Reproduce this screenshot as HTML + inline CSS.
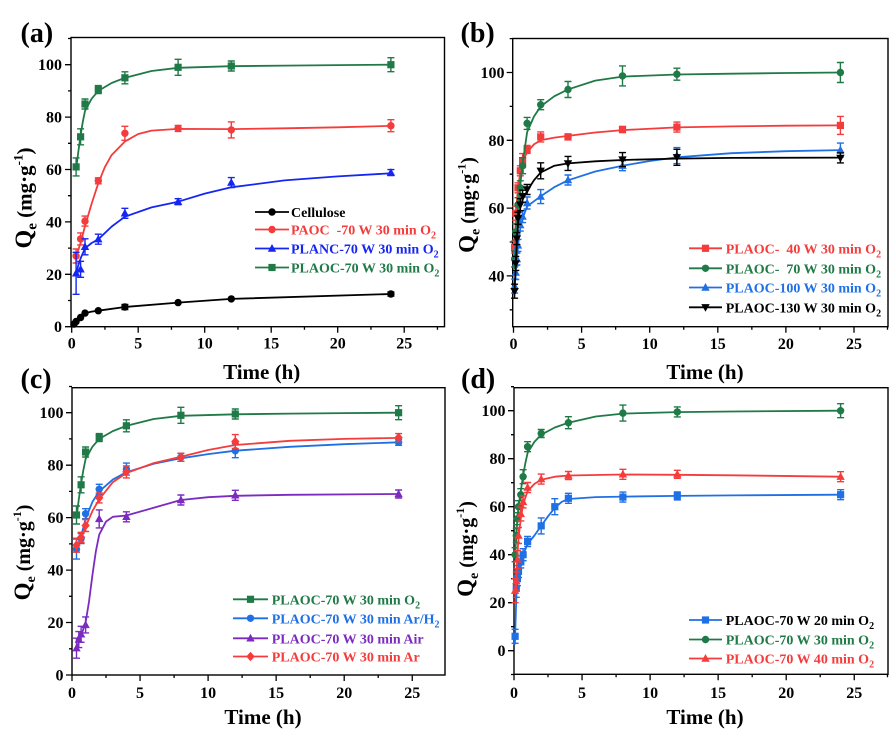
<!DOCTYPE html>
<html><head><meta charset="utf-8"><style>
html,body{margin:0;padding:0;background:#fff;}
svg{display:block;font-family:"Liberation Serif",serif;font-weight:bold;}
</style></head><body>
<svg width="891" height="731" viewBox="0 0 891 731" xmlns="http://www.w3.org/2000/svg">
<defs>
<path id="sq" d="M-3.6 -3.6h7.2v7.2h-7.2z"/>
<circle id="ci" cx="0" cy="0" r="3.7"/>
<path id="tr" d="M0 -4.5L4.2 3.2L-4.2 3.2z"/>
<path id="td" d="M0 4.5L4.2 -3.2L-4.2 -3.2z"/>
<path id="di" d="M0 -4.8L4.2 0L0 4.8L-4.2 0z"/>
</defs>
<rect width="891" height="731" fill="#fff"/>

<!-- ================= PANEL A ================= -->
<g>
<text x="20.5" y="42" font-size="28">(a)</text>
<rect x="71" y="37.5" width="373.5" height="289.2" fill="none" stroke="#000" stroke-width="1.4"/>
<path stroke="#000" stroke-width="1.3" fill="none" d="M71.7 326.7v6M104.95 326.7v3M138.2 326.7v6M171.45 326.7v3M204.7 326.7v6M237.95 326.7v3M271.2 326.7v6M304.45 326.7v3M337.7 326.7v6M370.95 326.7v3M404.2 326.7v6M437.45 326.7v3
M71 326.7h-6M71 300.5h-3M71 274.3h-6M71 248.1h-3M71 221.9h-6M71 195.7h-3M71 169.5h-6M71 143.3h-3M71 117.1h-6M71 90.9h-3M71 64.7h-6M71 38.5h-3"/>
<g font-size="16" text-anchor="middle">
<text x="71.7" y="348.5">0</text><text x="138.2" y="348.5">5</text><text x="204.7" y="348.5">10</text><text x="271.2" y="348.5">15</text><text x="337.7" y="348.5">20</text><text x="404.2" y="348.5">25</text>
</g>
<g font-size="16" text-anchor="end">
<text x="62" y="332.2">0</text><text x="62" y="279.8">20</text><text x="62" y="227.4">40</text><text x="62" y="175">60</text><text x="62" y="122.6">80</text><text x="62" y="70.2">100</text>
</g>
<text x="261.7" y="379" font-size="21" text-anchor="middle">Time (h)</text>
<text transform="translate(31.5,198) rotate(-90)" text-anchor="middle" font-size="21"><tspan font-size="24">Q</tspan><tspan font-size="15" dy="5">e</tspan><tspan dy="-5"> (mg·g</tspan><tspan font-size="13" dy="-9">-1</tspan><tspan dy="9">)</tspan></text>

<!-- black cellulose -->
<g stroke="#000" fill="none" stroke-width="1.8" stroke-linejoin="round">
<path d="M72.8 325.5L74 324.1L76.1 321.5L80.6 317.5L85 313.1L91.6 311.6L98.3 310.7L124.9 307L178.1 302.6L231.3 298.9L390.9 294"/>
<path stroke-width="1.4" d="M124.9 304.5V309.5M121.4 304.5h7M121.4 309.5h7M390.9 292V296M387.4 292h7M387.4 296h7"/>
</g>
<g fill="#000"><use href="#ci" x="74" y="324.1"/><use href="#ci" x="76.1" y="321.5"/><use href="#ci" x="80.6" y="317.5"/><use href="#ci" x="85" y="313.1"/><use href="#ci" x="98.3" y="310.7"/><use href="#ci" x="124.9" y="307"/><use href="#ci" x="178.1" y="302.6"/><use href="#ci" x="231.3" y="298.9"/><use href="#ci" x="390.9" y="294"/></g>

<!-- red PAOC -->
<g stroke="#f43c3c" fill="none" stroke-width="1.8" stroke-linejoin="round">
<path d="M76.1 256L80.6 243.1L85 226.1L91.65 203.6L98.3 183.2L104.95 166.9L111.6 155.1L124.9 141.5L138.2 134L151.5 130.6L178.1 128.9L231.3 129.1L284.5 128.3L337.7 127.3L390.9 125.9"/>
<path stroke-width="1.4" d="M76.1 249V263M72.6 249h7M72.6 263h7M80.6 232.9V244.9M77.1 232.9h7M77.1 244.9h7M85 216.1V226.1M81.5 216.1h7M81.5 226.1h7M98.3 177.8V183.8M94.8 177.8h7M94.8 183.8h7M124.9 126.3V140.3M121.4 126.3h7M121.4 140.3h7M178.1 125.4V131.4M174.6 125.4h7M174.6 131.4h7M231.3 121.9V137.9M227.8 121.9h7M227.8 137.9h7M390.9 119.7V131.7M387.4 119.7h7M387.4 131.7h7"/>
</g>
<g fill="#f43c3c"><use href="#ci" x="76.1" y="256"/><use href="#ci" x="80.6" y="238.9"/><use href="#ci" x="85" y="221.1"/><use href="#ci" x="98.3" y="180.8"/><use href="#ci" x="124.9" y="133.3"/><use href="#ci" x="178.1" y="128.4"/><use href="#ci" x="231.3" y="129.9"/><use href="#ci" x="390.9" y="125.7"/></g>

<!-- blue PLANC -->
<g stroke="#1626f2" fill="none" stroke-width="1.8" stroke-linejoin="round">
<path d="M76.1 273.3L78.4 264.8L80.6 258.4L85 248.3L91.65 243L98.3 239.3L111.6 226.6L124.9 216.7L151.5 207.4L178.1 201.7L204.7 193.6L231.3 187.3L284.5 180.4L337.7 176.4L390.9 173.3"/>
<path stroke-width="1.4" d="M76.1 252.3V294.3M72.6 252.3h7M72.6 294.3h7M80.6 261.3V277.3M77.1 261.3h7M77.1 277.3h7M85 238.8V254.8M81.5 238.8h7M81.5 254.8h7M98.3 234.2V244.2M94.8 234.2h7M94.8 244.2h7M124.9 208.3V218.3M121.4 208.3h7M121.4 218.3h7M178.1 198.7V204.7M174.6 198.7h7M174.6 204.7h7M231.3 177.6V187.6M227.8 177.6h7M227.8 187.6h7M390.9 169.6V175.6M387.4 169.6h7M387.4 175.6h7"/>
</g>
<g fill="#1626f2"><use href="#tr" x="76.1" y="273.3"/><use href="#tr" x="80.6" y="269.3"/><use href="#tr" x="85" y="246.8"/><use href="#tr" x="98.3" y="239.2"/><use href="#tr" x="124.9" y="213.3"/><use href="#tr" x="178.1" y="201.7"/><use href="#tr" x="231.3" y="182.6"/><use href="#tr" x="390.9" y="172.6"/></g>

<!-- green PLAOC -->
<g stroke="#1f7a47" fill="none" stroke-width="1.8" stroke-linejoin="round">
<path d="M76.1 169.5L78.4 151.2L80.6 135.4L82.7 122.3L85 110.9L91.65 98.7L98.3 90.9L111.6 83L124.9 77.8L151.5 71L178.1 67.8L231.3 66.2L284.5 65.6L337.7 65.1L390.9 64.7"/>
<path stroke-width="1.4" d="M76.1 157.9V175.9M72.6 157.9h7M72.6 175.9h7M80.6 128.8V144.8M77.1 128.8h7M77.1 144.8h7M85 99V109M81.5 99h7M81.5 109h7M98.3 85.6V93.6M94.8 85.6h7M94.8 93.6h7M124.9 71.8V83.8M121.4 71.8h7M121.4 83.8h7M178.1 59.3V75.3M174.6 59.3h7M174.6 75.3h7M231.3 61V71M227.8 61h7M227.8 71h7M390.9 57.7V71.7M387.4 57.7h7M387.4 71.7h7"/>
</g>
<g fill="#1f7a47"><use href="#sq" x="76.1" y="166.9"/><use href="#sq" x="80.6" y="136.8"/><use href="#sq" x="85" y="104"/><use href="#sq" x="98.3" y="89.6"/><use href="#sq" x="124.9" y="77.8"/><use href="#sq" x="178.1" y="67.3"/><use href="#sq" x="231.3" y="66"/><use href="#sq" x="390.9" y="64.7"/></g>

<!-- legend A -->
<g stroke-width="1.8">
<line x1="255" y1="212" x2="289" y2="212" stroke="#000"/><use href="#ci" x="272" y="212" fill="#000"/>
<line x1="255" y1="229.5" x2="289" y2="229.5" stroke="#f43c3c"/><use href="#ci" x="272" y="229.5" fill="#f43c3c"/>
<line x1="255" y1="248.5" x2="289" y2="248.5" stroke="#1626f2"/><use href="#tr" x="272" y="248.5" fill="#1626f2"/>
<line x1="255" y1="267.5" x2="289" y2="267.5" stroke="#1f7a47"/><use href="#sq" x="272" y="267.5" fill="#1f7a47"/>
</g>
<g font-size="14">
<text x="291" y="217" fill="#000">Cellulose</text>
<text x="291" y="234.5" fill="#f43c3c">PAOC&#160; -70 W 30 min O<tspan font-size="10" dy="4">2</tspan></text>
<text x="291" y="253.5" fill="#1626f2">PLANC-70 W 30 min O<tspan font-size="10" dy="4">2</tspan></text>
<text x="291" y="272.5" fill="#1f7a47">PLAOC-70 W 30 min O<tspan font-size="10" dy="4">2</tspan></text>
</g>
</g>

<!-- ================= PANEL B ================= -->
<g>
<text x="460.5" y="42" font-size="28">(b)</text>
<rect x="512.7" y="38.5" width="375.3" height="288.2" fill="none" stroke="#000" stroke-width="1.4"/>
<path stroke="#000" stroke-width="1.3" fill="none" d="M513.5 326.7v6M547.55 326.7v3M581.6 326.7v6M615.65 326.7v3M649.7 326.7v6M683.75 326.7v3M717.8 326.7v6M751.85 326.7v3M785.9 326.7v6M819.95 326.7v3M854 326.7v6M887.5 326.7v3
M512.7 309.8h-3M512.7 275.9h-6M512.7 242h-3M512.7 208.1h-6M512.7 174.2h-3M512.7 140.3h-6M512.7 106.4h-3M512.7 72.5h-6M512.7 38.6h-3"/>
<g font-size="16" text-anchor="middle">
<text x="513.5" y="349">0</text><text x="581.6" y="349">5</text><text x="649.7" y="349">10</text><text x="717.8" y="349">15</text><text x="785.9" y="349">20</text><text x="854" y="349">25</text>
</g>
<g font-size="16" text-anchor="end">
<text x="504.5" y="281.4">40</text><text x="504.5" y="213.6">60</text><text x="504.5" y="145.8">80</text><text x="504.5" y="78">100</text>
</g>
<text x="705" y="379" font-size="21" text-anchor="middle">Time (h)</text>
<text transform="translate(474.5,205) rotate(-90)" text-anchor="middle" font-size="20"><tspan font-size="23">Q</tspan><tspan font-size="14" dy="5">e</tspan><tspan dy="-5"> (mg·g</tspan><tspan font-size="12" dy="-9">-1</tspan><tspan dy="9">)</tspan></text>

<!-- red 40W -->
<g stroke="#f43c3c" fill="none" stroke-width="1.8" stroke-linejoin="round">
<path d="M514.6 248.8L515.8 218.3L516.9 201.3L518 187.8L520.3 172.5L522.6 162.3L527.1 152.2L533.9 144.4L540.7 140.3L554.4 137.6L568 135.9L595.2 132.5L622.5 130.1L676.9 127.4L731.4 126.4L785.9 125.7L840.4 125.4"/>
<path stroke-width="1.4" d="M514.6 241.1V253.1M511.1 241.1h7M511.1 253.1h7M515.8 206.2V220.2M512.3 206.2h7M512.3 220.2h7M518 182.8V192.8M514.5 182.8h7M514.5 192.8h7M520.3 165.8V175.8M516.8 165.8h7M516.8 175.8h7M522.6 153.6V167.6M519.1 153.6h7M519.1 167.6h7M527.1 145.4V153.4M523.6 145.4h7M523.6 153.4h7M540.7 131.9V141.9M537.2 131.9h7M537.2 141.9h7M568 133.9V139.9M564.5 133.9h7M564.5 139.9h7M622.5 126.5V132.5M619 126.5h7M619 132.5h7M676.9 122.1V132.1M673.4 122.1h7M673.4 132.1h7M840.4 116.4V134.4M836.9 116.4h7M836.9 134.4h7"/>
</g>
<g fill="#f43c3c"><use href="#sq" x="514.6" y="247.1"/><use href="#sq" x="515.8" y="213.2"/><use href="#sq" x="518" y="187.8"/><use href="#sq" x="520.3" y="170.8"/><use href="#sq" x="522.6" y="160.6"/><use href="#sq" x="527.1" y="149.4"/><use href="#sq" x="540.7" y="136.9"/><use href="#sq" x="568" y="136.9"/><use href="#sq" x="622.5" y="129.5"/><use href="#sq" x="676.9" y="127.1"/><use href="#sq" x="840.4" y="125.4"/></g>

<!-- green 70W -->
<g stroke="#1f7a47" fill="none" stroke-width="1.8" stroke-linejoin="round">
<path d="M514.6 269.1L515.8 242L516.9 221.7L518 208.1L520.3 184.4L522.6 164L527.1 132.2L533.9 116.6L540.7 106.4L554.4 96.2L568 89.45L595.2 80.6L622.5 76.6L676.9 74.5L731.4 73.7L785.9 73L840.4 72.5"/>
<path stroke-width="1.4" d="M514.6 251V267M511.1 251h7M511.1 267h7M515.8 223.8V239.8M512.3 223.8h7M512.3 239.8h7M518 197.7V211.7M514.5 197.7h7M514.5 211.7h7M520.3 180.8V194.8M516.8 180.8h7M516.8 194.8h7M522.6 157.7V173.7M519.1 157.7h7M519.1 173.7h7M527.1 117.4V129.4M523.6 117.4h7M523.6 129.4h7M540.7 99.7V109.7M537.2 99.7h7M537.2 109.7h7M568 81.5V97.5M564.5 81.5h7M564.5 97.5h7M622.5 65.9V85.9M619 65.9h7M619 85.9h7M676.9 68.2V80.2M673.4 68.2h7M673.4 80.2h7M840.4 62.5V82.5M836.9 62.5h7M836.9 82.5h7"/>
</g>
<g fill="#1f7a47"><use href="#ci" x="514.6" y="258.95"/><use href="#ci" x="515.8" y="231.8"/><use href="#ci" x="518" y="204.7"/><use href="#ci" x="520.3" y="187.8"/><use href="#ci" x="522.6" y="165.7"/><use href="#ci" x="527.1" y="123.35"/><use href="#ci" x="540.7" y="104.7"/><use href="#ci" x="568" y="89.45"/><use href="#ci" x="622.5" y="75.9"/><use href="#ci" x="676.9" y="74.2"/><use href="#ci" x="840.4" y="72.5"/></g>

<!-- blue 100W -->
<g stroke="#1f6fe5" fill="none" stroke-width="1.8" stroke-linejoin="round">
<path d="M514.6 286.1L515.8 270.8L516.9 259L518 245.4L520.3 228.4L522.6 218.3L527.1 206.4L533.9 201.3L540.7 196.3L554.4 187.1L568 180.3L595.2 171.5L622.5 165.7L649.7 161L676.9 157.3L731.4 153.2L785.9 151.2L840.4 150.1"/>
<path stroke-width="1.4" d="M514.6 279.1V293.1M511.1 279.1h7M511.1 293.1h7M515.8 265.5V279.5M512.3 265.5h7M512.3 279.5h7M516.9 253V265M513.4 253h7M513.4 265h7M518 239.4V251.4M514.5 239.4h7M514.5 251.4h7M520.3 219.1V231.1M516.8 219.1h7M516.8 231.1h7M522.6 210.6V222.6M519.1 210.6h7M519.1 222.6h7M527.1 197V209M523.6 197h7M523.6 209h7M540.7 189.6V203.6M537.2 189.6h7M537.2 203.6h7M568 175V185M564.5 175h7M564.5 185h7M622.5 160.7V170.7M619 160.7h7M619 170.7h7M676.9 147.6V163.6M673.4 147.6h7M673.4 163.6h7M840.4 143.1V157.1M836.9 143.1h7M836.9 157.1h7"/>
</g>
<g fill="#1f6fe5"><use href="#tr" x="514.6" y="286.1"/><use href="#tr" x="515.8" y="272.5"/><use href="#tr" x="516.9" y="259"/><use href="#tr" x="518" y="245.4"/><use href="#tr" x="520.3" y="225.1"/><use href="#tr" x="522.6" y="216.6"/><use href="#tr" x="527.1" y="203"/><use href="#tr" x="540.7" y="196.6"/><use href="#tr" x="568" y="180"/><use href="#tr" x="622.5" y="165.7"/><use href="#tr" x="676.9" y="155.6"/><use href="#tr" x="840.4" y="150.1"/></g>

<!-- black 130W -->
<g stroke="#000" fill="none" stroke-width="1.8" stroke-linejoin="round">
<path d="M514.6 289.5L515.8 265.7L516.9 242L518 225.1L520.3 208.1L522.6 199.6L527.1 191.15L533.9 180.3L540.7 172.5L554.4 165.7L568 163.4L595.2 161.3L622.5 160L676.9 158.6L731.4 157.9L840.4 157.6"/>
<path stroke-width="1.4" d="M514.6 284.2V298.2M511.1 284.2h7M511.1 298.2h7M515.8 256.4V270.4M512.3 256.4h7M512.3 270.4h7M516.9 232.6V244.6M513.4 232.6h7M513.4 244.6h7M518 212.3V224.3M514.5 212.3h7M514.5 224.3h7M520.3 198.7V210.7M516.8 198.7h7M516.8 210.7h7M522.6 190.2V202.2M519.1 190.2h7M519.1 202.2h7M527.1 184.5V194.5M523.6 184.5h7M523.6 194.5h7M540.7 162.8V178.8M537.2 162.8h7M537.2 178.8h7M568 156.4V170.4M564.5 156.4h7M564.5 170.4h7M622.5 152.6V166.6M619 152.6h7M619 166.6h7M676.9 149.3V165.3M673.4 149.3h7M673.4 165.3h7M840.4 152.9V162.9M836.9 152.9h7M836.9 162.9h7"/>
</g>
<g fill="#000"><use href="#td" x="514.6" y="291.2"/><use href="#td" x="515.8" y="263.4"/><use href="#td" x="516.9" y="238.6"/><use href="#td" x="518" y="218.3"/><use href="#td" x="520.3" y="204.7"/><use href="#td" x="522.6" y="196.2"/><use href="#td" x="527.1" y="189.5"/><use href="#td" x="540.7" y="170.8"/><use href="#td" x="568" y="163.4"/><use href="#td" x="622.5" y="159.6"/><use href="#td" x="676.9" y="157.3"/><use href="#td" x="840.4" y="157.9"/></g>

<!-- legend B -->
<g stroke-width="1.8">
<line x1="689" y1="248.3" x2="722" y2="248.3" stroke="#f43c3c"/><use href="#sq" x="705.5" y="248.3" fill="#f43c3c"/>
<line x1="689" y1="268.3" x2="722" y2="268.3" stroke="#1f7a47"/><use href="#ci" x="705.5" y="268.3" fill="#1f7a47"/>
<line x1="689" y1="287.5" x2="722" y2="287.5" stroke="#1f6fe5"/><use href="#tr" x="705.5" y="287.5" fill="#1f6fe5"/>
<line x1="689" y1="307.3" x2="722" y2="307.3" stroke="#000"/><use href="#td" x="705.5" y="307.3" fill="#000"/>
</g>
<g font-size="14">
<text x="725.7" y="253.3" fill="#f43c3c">PLAOC-&#160; 40 W 30 min O<tspan font-size="10" dy="4">2</tspan></text>
<text x="725.7" y="273.3" fill="#1f7a47">PLAOC-&#160; 70 W 30 min O<tspan font-size="10" dy="4">2</tspan></text>
<text x="725.7" y="292.5" fill="#1f6fe5">PLAOC-100 W 30 min O<tspan font-size="10" dy="4">2</tspan></text>
<text x="725.7" y="312.3" fill="#000">PLAOC-130 W 30 min O<tspan font-size="10" dy="4">2</tspan></text>
</g>
</g>

<!-- ================= PANEL C ================= -->
<g>
<text x="20.5" y="388" font-size="28">(c)</text>
<rect x="72" y="387.7" width="373" height="287.3" fill="none" stroke="#000" stroke-width="1.4"/>
<path stroke="#000" stroke-width="1.3" fill="none" d="M72 675v6M106 675v3M140.05 675v6M174.1 675v3M208.1 675v6M242.1 675v3M276.15 675v6M310.2 675v3M344.2 675v6M378.2 675v3M412.25 675v6
M72 675h-6M72 648.8h-3M72 622.5h-6M72 596.3h-3M72 570.1h-6M72 543.9h-3M72 517.6h-6M72 491.4h-3M72 465.2h-6M72 438.9h-3M72 412.7h-6M72 386.5h-3"/>
<g font-size="16" text-anchor="middle">
<text x="72" y="698">0</text><text x="140.05" y="698">5</text><text x="208.1" y="698">10</text><text x="276.15" y="698">15</text><text x="344.2" y="698">20</text><text x="412.25" y="698">25</text>
</g>
<g font-size="16" text-anchor="end">
<text x="63.5" y="680.5">0</text><text x="63.5" y="628">20</text><text x="63.5" y="575.6">40</text><text x="63.5" y="523.1">60</text><text x="63.5" y="470.7">80</text><text x="63.5" y="418.2">100</text>
</g>
<text x="263" y="724" font-size="21" text-anchor="middle">Time (h)</text>
<text transform="translate(30,552.5) rotate(-90)" text-anchor="middle" font-size="20"><tspan font-size="23">Q</tspan><tspan font-size="14" dy="5">e</tspan><tspan dy="-5"> (mg·g</tspan><tspan font-size="12" dy="-9">-1</tspan><tspan dy="9">)</tspan></text>

<!-- green O2 -->
<g stroke="#1f7a47" fill="none" stroke-width="1.8" stroke-linejoin="round">
<path d="M76.5 517.6L78.8 499.3L81.1 483.5L83.3 470.4L85.6 458.9L92.4 446.8L99.2 438.9L112.8 431.1L126.4 425.8L153.7 419L180.9 415.8L235.3 414.3L289.8 413.6L344.2 413.1L398.6 412.7"/>
<path stroke-width="1.4" d="M76.5 506V524M73 506h7M73 524h7M81.1 476.8V492.8M77.6 476.8h7M77.6 492.8h7M85.6 447V457M82.1 447h7M82.1 457h7M99.2 433.6V441.6M95.7 433.6h7M95.7 441.6h7M126.4 419.8V431.8M122.9 419.8h7M122.9 431.8h7M180.9 407.3V423.3M177.4 407.3h7M177.4 423.3h7M235.3 409V419M231.8 409h7M231.8 419h7M398.6 405.7V419.7M395.1 405.7h7M395.1 419.7h7"/>
</g>
<g fill="#1f7a47"><use href="#sq" x="76.5" y="515"/><use href="#sq" x="81.1" y="484.8"/><use href="#sq" x="85.6" y="452"/><use href="#sq" x="99.2" y="437.6"/><use href="#sq" x="126.4" y="425.8"/><use href="#sq" x="180.9" y="415.3"/><use href="#sq" x="235.3" y="414"/><use href="#sq" x="398.6" y="412.7"/></g>

<!-- blue Ar/H2 -->
<g stroke="#1f6fe5" fill="none" stroke-width="1.8" stroke-linejoin="round">
<path d="M76.5 549.1L78.8 543.9L81.1 536L85.6 518.9L92.4 501.9L99.2 491.4L112.8 479.6L126.4 472.2L153.7 463.8L180.9 458.3L208.1 454.1L235.3 450.7L289.8 446.8L344.2 444.2L398.6 442.3"/>
<path stroke-width="1.4" d="M76.5 539.1V559.1M73 539.1h7M73 559.1h7M81.1 533.6V543.6M77.6 533.6h7M77.6 543.6h7M85.6 508.7V518.7M82.1 508.7h7M82.1 518.7h7M99.2 484.3V494.3M95.7 484.3h7M95.7 494.3h7M126.4 463.1V475.1M122.9 463.1h7M122.9 475.1h7M180.9 453.3V461.3M177.4 453.3h7M177.4 461.3h7M235.3 443.7V457.7M231.8 443.7h7M231.8 457.7h7M398.6 439.3V445.3M395.1 439.3h7M395.1 445.3h7"/>
</g>
<g fill="#1f6fe5"><use href="#ci" x="76.5" y="549.1"/><use href="#ci" x="81.1" y="538.6"/><use href="#ci" x="85.6" y="513.7"/><use href="#ci" x="99.2" y="489.3"/><use href="#ci" x="126.4" y="469.1"/><use href="#ci" x="180.9" y="457.3"/><use href="#ci" x="235.3" y="450.7"/><use href="#ci" x="398.6" y="442.3"/></g>

<!-- purple Air -->
<g stroke="#7b2bbf" fill="none" stroke-width="1.8" stroke-linejoin="round">
<path d="M76.5 648.8L78.8 642.2L81.1 635.7L85.6 622.5L89 601.6L92.4 575.3L95.8 551.7L99.2 534.7L106 521.6L112.8 516.8L126.4 515.5L153.7 507.8L180.9 500L208.1 497.2L235.3 495.8L289.8 494.8L398.6 494"/>
<path stroke-width="1.4" d="M76.5 638.2V658.2M73 638.2h7M73 658.2h7M78.8 631.6V647.6M75.3 631.6h7M75.3 647.6h7M81.1 626.3V642.3M77.6 626.3h7M77.6 642.3h7M85.6 616.9V632.9M82.1 616.9h7M82.1 632.9h7M99.2 509.9V527.9M95.7 509.9h7M95.7 527.9h7M126.4 511.8V521.8M122.9 511.8h7M122.9 521.8h7M180.9 495V505M177.4 495h7M177.4 505h7M235.3 490.3V500.3M231.8 490.3h7M231.8 500.3h7M398.6 490V498M395.1 490h7M395.1 498h7"/>
</g>
<g fill="#7b2bbf"><use href="#tr" x="76.5" y="648.2"/><use href="#tr" x="78.8" y="639.6"/><use href="#tr" x="81.1" y="634.3"/><use href="#tr" x="85.6" y="624.9"/><use href="#tr" x="99.2" y="518.9"/><use href="#tr" x="126.4" y="516.8"/><use href="#tr" x="180.9" y="500"/><use href="#tr" x="235.3" y="495.3"/><use href="#tr" x="398.6" y="494"/></g>

<!-- red Ar -->
<g stroke="#f43c3c" fill="none" stroke-width="1.8" stroke-linejoin="round">
<path d="M76.5 545.2L78.8 542.5L81.1 538.6L85.6 526.8L92.4 511.1L99.2 499.3L112.8 482.2L126.4 473L153.7 463.1L180.9 456.8L208.1 450L235.3 445L289.8 440.8L344.2 438.9L398.6 437.9"/>
<path stroke-width="1.4" d="M76.5 538.2V552.2M73 538.2h7M73 552.2h7M81.1 532.3V542.3M77.6 532.3h7M77.6 542.3h7M85.6 519.5V531.5M82.1 519.5h7M82.1 531.5h7M99.2 492.9V502.9M95.7 492.9h7M95.7 502.9h7M126.4 465.9V477.9M122.9 465.9h7M122.9 477.9h7M180.9 453.3V461.3M177.4 453.3h7M177.4 461.3h7M235.3 434.6V448.6M231.8 434.6h7M231.8 448.6h7M398.6 433.6V441.6M395.1 433.6h7M395.1 441.6h7"/>
</g>
<g fill="#f43c3c"><use href="#di" x="76.5" y="545.2"/><use href="#di" x="81.1" y="537.3"/><use href="#di" x="85.6" y="525.5"/><use href="#di" x="99.2" y="497.9"/><use href="#di" x="126.4" y="471.9"/><use href="#di" x="180.9" y="457.3"/><use href="#di" x="235.3" y="441.6"/><use href="#di" x="398.6" y="437.6"/></g>

<!-- legend C -->
<g stroke-width="1.8">
<line x1="233" y1="599.3" x2="268" y2="599.3" stroke="#1f7a47"/><use href="#sq" x="250.5" y="599.3" fill="#1f7a47"/>
<line x1="233" y1="618.3" x2="268" y2="618.3" stroke="#1f6fe5"/><use href="#ci" x="250.5" y="618.3" fill="#1f6fe5"/>
<line x1="233" y1="638.3" x2="268" y2="638.3" stroke="#7b2bbf"/><use href="#tr" x="250.5" y="638.3" fill="#7b2bbf"/>
<line x1="233" y1="656.5" x2="268" y2="656.5" stroke="#f43c3c"/><use href="#di" x="250.5" y="656.5" fill="#f43c3c"/>
</g>
<g font-size="14">
<text x="271.7" y="604.3" fill="#1f7a47">PLAOC-70 W 30 min O<tspan font-size="10" dy="4">2</tspan></text>
<text x="271.7" y="623.3" fill="#1f6fe5">PLAOC-70 W 30 min Ar/H<tspan font-size="10" dy="4">2</tspan></text>
<text x="271.7" y="643.3" fill="#7b2bbf">PLAOC-70 W 30 min Air</text>
<text x="271.7" y="661.5" fill="#f43c3c">PLAOC-70 W 30 min Ar</text>
</g>
</g>

<!-- ================= PANEL D ================= -->
<g>
<text x="461" y="388" font-size="28">(d)</text>
<rect x="514" y="387.7" width="374" height="286.6" fill="none" stroke="#000" stroke-width="1.4"/>
<path stroke="#000" stroke-width="1.3" fill="none" d="M514 674.3v6M548 674.3v3M582.05 674.3v6M616.1 674.3v3M650.1 674.3v6M684.1 674.3v3M718.15 674.3v6M752.2 674.3v3M786.2 674.3v6M820.2 674.3v3M854.25 674.3v6M887.5 674.3v3
M514 674.5h-3M514 650.7h-6M514 626.7h-3M514 602.7h-6M514 578.7h-3M514 554.7h-6M514 530.7h-3M514 506.7h-6M514 482.7h-3M514 458.7h-6M514 434.7h-3M514 410.7h-6M514 386.7h-3"/>
<g font-size="16" text-anchor="middle">
<text x="514" y="698">0</text><text x="582.05" y="698">5</text><text x="650.1" y="698">10</text><text x="718.15" y="698">15</text><text x="786.2" y="698">20</text><text x="854.25" y="698">25</text>
</g>
<g font-size="16" text-anchor="end">
<text x="505.5" y="656.2">0</text><text x="505.5" y="608.2">20</text><text x="505.5" y="560.2">40</text><text x="505.5" y="512.2">60</text><text x="505.5" y="464.2">80</text><text x="505.5" y="416.2">100</text>
</g>
<text x="705" y="724" font-size="21" text-anchor="middle">Time (h)</text>
<text transform="translate(473,549) rotate(-90)" text-anchor="middle" font-size="20"><tspan font-size="23">Q</tspan><tspan font-size="14" dy="5">e</tspan><tspan dy="-5"> (mg·g</tspan><tspan font-size="12" dy="-9">-1</tspan><tspan dy="9">)</tspan></text>

<!-- blue 20 min -->
<g stroke="#1f6fe5" fill="none" stroke-width="1.8" stroke-linejoin="round">
<path d="M514.5 645L515.1 636.3L516.3 597.9L517.4 578.7L518.5 570.3L520.8 561.9L523.1 554.7L527.6 543.9L534.4 535.5L541.2 525.9L548 516.3L554.8 507.9L561.6 501.9L568.4 499L595.7 497.1L622.9 496.6L677.3 495.9L731.8 495.4L840.6 494.7"/>
<path stroke-width="1.4" d="M515.1 629.3V643.3M511.6 629.3h7M511.6 643.3h7M516.3 579.3V597.3M512.8 579.3h7M512.8 597.3h7M517.4 571.7V585.7M513.9 571.7h7M513.9 585.7h7M518.5 565.5V577.5M515 565.5h7M515 577.5h7M520.8 555.9V567.9M517.3 555.9h7M517.3 567.9h7M523.1 548.7V560.7M519.6 548.7h7M519.6 560.7h7M527.6 536.5V546.5M524.1 536.5h7M524.1 546.5h7M541.2 517.9V533.9M537.7 517.9h7M537.7 533.9h7M554.8 498.7V514.7M551.3 498.7h7M551.3 514.7h7M568.4 493.3V503.3M564.9 493.3h7M564.9 503.3h7M622.9 492.1V502.1M619.4 492.1h7M619.4 502.1h7M677.3 491.9V499.9M673.8 491.9h7M673.8 499.9h7M840.6 489.7V499.7M837.1 489.7h7M837.1 499.7h7"/>
</g>
<g fill="#1f6fe5"><use href="#sq" x="515.1" y="636.3"/><use href="#sq" x="516.3" y="588.3"/><use href="#sq" x="517.4" y="578.7"/><use href="#sq" x="518.5" y="571.5"/><use href="#sq" x="520.8" y="561.9"/><use href="#sq" x="523.1" y="554.7"/><use href="#sq" x="527.6" y="541.5"/><use href="#sq" x="541.2" y="525.9"/><use href="#sq" x="554.8" y="506.7"/><use href="#sq" x="568.4" y="498.3"/><use href="#sq" x="622.9" y="497.1"/><use href="#sq" x="677.3" y="495.9"/><use href="#sq" x="840.6" y="494.7"/></g>

<!-- green 30 min -->
<g stroke="#1f7a47" fill="none" stroke-width="1.8" stroke-linejoin="round">
<path d="M515.1 554.7L516.3 535.5L517.4 518.7L518.5 506.7L520.8 491.1L523.1 475.5L525.3 463.5L527.6 452.9L534.4 441.9L541.2 434.7L554.8 427.5L568.4 422.7L595.7 416.5L622.9 413.6L677.3 412.1L731.8 411.5L840.6 410.7"/>
<path stroke-width="1.4" d="M515.1 547.7V561.7M511.6 547.7h7M511.6 561.7h7M516.3 528.5V542.5M512.8 528.5h7M512.8 542.5h7M517.4 512.7V524.7M513.9 512.7h7M513.9 524.7h7M518.5 500.7V512.7M515 500.7h7M515 512.7h7M520.8 488.7V500.7M517.3 488.7h7M517.3 500.7h7M523.1 469.7V483.7M519.6 469.7h7M519.6 483.7h7M527.6 441.7V451.7M524.1 441.7h7M524.1 451.7h7M541.2 429.5V437.5M537.7 429.5h7M537.7 437.5h7M568.4 416.7V428.7M564.9 416.7h7M564.9 428.7h7M622.9 405.1V421.1M619.4 405.1h7M619.4 421.1h7M677.3 406.9V416.9M673.8 406.9h7M673.8 416.9h7M840.6 403.7V417.7M837.1 403.7h7M837.1 417.7h7"/>
</g>
<g fill="#1f7a47"><use href="#ci" x="515.1" y="554.7"/><use href="#ci" x="516.3" y="535.5"/><use href="#ci" x="517.4" y="518.7"/><use href="#ci" x="518.5" y="506.7"/><use href="#ci" x="520.8" y="494.7"/><use href="#ci" x="523.1" y="476.7"/><use href="#ci" x="527.6" y="446.7"/><use href="#ci" x="541.2" y="433.5"/><use href="#ci" x="568.4" y="422.7"/><use href="#ci" x="622.9" y="413.1"/><use href="#ci" x="677.3" y="411.9"/><use href="#ci" x="840.6" y="410.7"/></g>

<!-- red 40 min -->
<g stroke="#f43c3c" fill="none" stroke-width="1.8" stroke-linejoin="round">
<path d="M515.1 595.5L516.3 578.7L517.4 554.7L518.5 537.9L520.8 518.7L523.1 504.3L527.6 491.1L534.4 483.9L541.2 479.8L554.8 476.7L568.4 475.5L622.9 474.5L677.3 474.8L731.8 475.3L840.6 476.7"/>
<path stroke-width="1.4" d="M515.1 578.7V602.7M511.6 578.7h7M511.6 602.7h7M516.3 572.1V590.1M512.8 572.1h7M512.8 590.1h7M517.4 550.5V568.5M513.9 550.5h7M513.9 568.5h7M518.5 527.5V543.5M515 527.5h7M515 543.5h7M520.8 506.9V520.9M517.3 506.9h7M517.3 520.9h7M523.1 495.9V507.9M519.6 495.9h7M519.6 507.9h7M527.6 482.5V492.5M524.1 482.5h7M524.1 492.5h7M541.2 474.1V484.1M537.7 474.1h7M537.7 484.1h7M568.4 471.5V479.5M564.9 471.5h7M564.9 479.5h7M622.9 469.3V479.3M619.4 469.3h7M619.4 479.3h7M677.3 470.3V478.3M673.8 470.3h7M673.8 478.3h7M840.6 471.7V481.7M837.1 471.7h7M837.1 481.7h7"/>
</g>
<g fill="#f43c3c"><use href="#tr" x="515.1" y="590.7"/><use href="#tr" x="516.3" y="581.1"/><use href="#tr" x="517.4" y="559.5"/><use href="#tr" x="518.5" y="535.5"/><use href="#tr" x="520.8" y="513.9"/><use href="#tr" x="523.1" y="501.9"/><use href="#tr" x="527.6" y="487.5"/><use href="#tr" x="541.2" y="479.1"/><use href="#tr" x="568.4" y="475.5"/><use href="#tr" x="622.9" y="474.3"/><use href="#tr" x="677.3" y="474.3"/><use href="#tr" x="840.6" y="476.7"/></g>

<!-- legend D -->
<g stroke-width="1.8">
<line x1="689" y1="620" x2="722" y2="620" stroke="#1f6fe5"/><use href="#sq" x="705.5" y="620" fill="#1f6fe5"/>
<line x1="689" y1="639.5" x2="722" y2="639.5" stroke="#1f7a47"/><use href="#ci" x="705.5" y="639.5" fill="#1f7a47"/>
<line x1="689" y1="658.5" x2="722" y2="658.5" stroke="#f43c3c"/><use href="#tr" x="705.5" y="658.5" fill="#f43c3c"/>
</g>
<g font-size="14">
<text x="725.7" y="625" fill="#000">PLAOC-70 W 20 min O<tspan font-size="10" dy="4">2</tspan></text>
<text x="725.7" y="644.5" fill="#1f7a47">PLAOC-70 W 30 min O<tspan font-size="10" dy="4">2</tspan></text>
<text x="725.7" y="663.5" fill="#f43c3c">PLAOC-70 W 40 min O<tspan font-size="10" dy="4">2</tspan></text>
</g>
</g>
</svg>
</body></html>
